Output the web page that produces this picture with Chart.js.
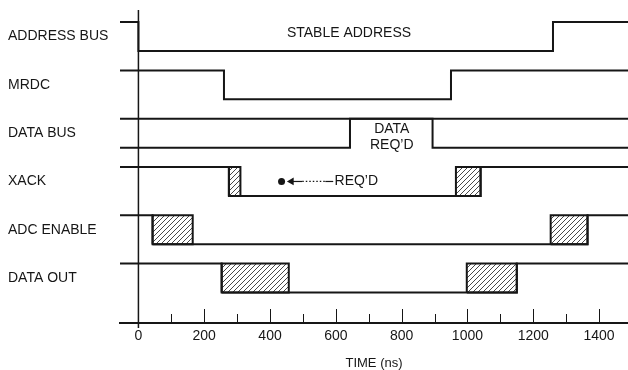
<!DOCTYPE html>
<html>
<head>
<meta charset="utf-8">
<title>Read cycle timing</title>
<style>
  html, body { margin: 0; padding: 0; background: #fff; }
</style>
<script src="https://cdn.jsdelivr.net/npm/chart.js"></script>
</head>
<body>
<canvas id="timing" width="628" height="370"></canvas>
<script>
// signal rows, top to bottom
const signals = ['ADDRESS BUS', 'MRDC', 'DATA BUS', 'XACK', 'ADC ENABLE', 'DATA OUT'];

// switching times (ns) and the level reached at each one (1 = high, 0 = low)
const addressTimes = [-60, 0, 1260, 1500];
const addressLevels = [1, 0, 1, 1];
const mrdcTimes = [-60, 260, 950, 1500];
const mrdcLevels = [1, 0, 1, 1];
const dataBusTimes = [-60, 643, 894, 1500];
const dataBusLevels = [0, 1, 0, 0];
const xackTimes = [-60, 275, 1040, 1500];
const xackLevels = [1, 0, 1, 1];
const adcTimes = [-60, 43, 1365, 1500];
const adcLevels = [1, 0, 1, 1];
const dataOutTimes = [-60, 253, 1150, 1500];
const dataOutLevels = [1, 0, 1, 1];

// hatched "don't care" windows [start, end] in ns
const xackWindows = [[275, 310], [965, 1040]];
const adcWindows = [[43, 165], [1253, 1365]];
const dataOutWindows = [[253, 457], [998, 1150]];

// REQ'D marker on XACK: dot, arrow and leader (ns)
const reqDot = 435;
const reqArrow = 465;
const reqLeader = [465, 498, 568, 592];

// time axis
const majorTicks = [0, 200, 400, 600, 800, 1000, 1200, 1400];
const minorTicks = [100, 300, 500, 700, 900, 1100, 1300];

const SWING = 0.6;
const rowBase = i => signals.length - 1 - i;
const level = (i, l) => rowBase(i) + l * SWING;
const ink = '#161616';
const FONT = "'Liberation Sans', Arial, Helvetica, sans-serif";

function steps(row, times, levels) {
  return times.map((t, k) => ({ x: t, y: level(row, levels[k]) }));
}

function hatch() {
  const c = document.createElement('canvas');
  c.width = 5; c.height = 5;
  const g = c.getContext('2d');
  g.strokeStyle = '#333';
  g.lineWidth = 0.9;
  g.beginPath();
  g.moveTo(0, 5); g.lineTo(5, 0);
  g.moveTo(-1, 1); g.lineTo(1, -1);
  g.moveTo(4, 6); g.lineTo(6, 4);
  g.stroke();
  return g.createPattern(c, 'repeat');
}
const hatchFill = hatch();

const lineDefaults = { borderColor: ink, borderWidth: 2, pointRadius: 0, fill: false, stepped: true };

const datasets = [
  { ...lineDefaults, data: steps(0, addressTimes, addressLevels) },
  { ...lineDefaults, data: steps(1, mrdcTimes, mrdcLevels) },
  { ...lineDefaults, data: steps(2, [-60, 1500], [1, 1]) },
  { ...lineDefaults, data: steps(2, dataBusTimes, dataBusLevels) },
  { ...lineDefaults, data: steps(3, xackTimes, xackLevels) },
  { ...lineDefaults, data: steps(4, adcTimes, adcLevels) },
  { ...lineDefaults, data: steps(5, dataOutTimes, dataOutLevels) }
];

// hatched boxes
[[3, xackWindows], [4, adcWindows], [5, dataOutWindows]].forEach(([row, wins]) => {
  wins.forEach(([s, e]) => {
    datasets.push({
      data: [
        { x: s, y: level(row, 0) }, { x: s, y: level(row, 1) },
        { x: e, y: level(row, 1) }, { x: e, y: level(row, 0) }, { x: s, y: level(row, 0) }
      ],
      borderColor: ink, borderWidth: 2, pointRadius: 0,
      fill: 'shape', backgroundColor: hatchFill
    });
  });
});

// REQ'D marker
const reqY = level(3, 0.5);
datasets.push({
  data: reqLeader.map(t => ({ x: t, y: reqY })),
  borderColor: ink, borderWidth: 1.2, pointRadius: 0, fill: false,
  segment: { borderDash: ctx => ctx.p0DataIndex === 1 ? [1.5, 2] : undefined }
});
datasets.push({
  data: [{ x: reqDot, y: reqY }],
  showLine: false, pointRadius: 3.5, pointStyle: 'circle',
  backgroundColor: ink, borderColor: ink, borderWidth: 0
});
datasets.push({
  data: [{ x: reqArrow, y: reqY }],
  showLine: false, pointRadius: 4.5, pointStyle: 'triangle', rotation: 270,
  backgroundColor: ink, borderColor: ink, borderWidth: 0
});

// labels written inside the diagram
const notes = [
  { text: 'STABLE ADDRESS', t: 640, y: level(0, 0.62), align: 'center' },
  { text: 'DATA', t: 770, y: level(2, 0.63), align: 'center' },
  { text: 'REQ\u2019D', t: 770, y: level(2, 0.08), align: 'center' },
  { text: 'REQ\u2019D', t: 596, y: reqY, align: 'left' }
];

const diagramPlugin = {
  id: 'diagram',
  afterDraw(chart) {
    const { ctx, chartArea, scales: { x } } = chart;
    const zero = x.getPixelForValue(0);
    ctx.save();
    ctx.strokeStyle = ink;
    // time axis through t = 0
    ctx.lineWidth = 1.5;
    ctx.beginPath();
    ctx.moveTo(zero, chartArea.top);
    ctx.lineTo(zero, chartArea.bottom + 5);
    ctx.stroke();
    // tick marks rising from the time axis
    ctx.lineWidth = 1;
    x.ticks.forEach(tk => {
      if (tk.value === 0) return;
      const px = Math.round(x.getPixelForValue(tk.value)) + 0.5;
      const len = majorTicks.includes(tk.value) ? 14 : 9;
      ctx.beginPath();
      ctx.moveTo(px, chartArea.bottom);
      ctx.lineTo(px, chartArea.bottom - len);
      ctx.stroke();
    });
    ctx.restore();
  },
  afterDatasetsDraw(chart) {
    const { ctx, scales: { x, y } } = chart;
    ctx.save();
    ctx.fillStyle = ink;
    ctx.font = '14px ' + FONT;
    ctx.textBaseline = 'middle';
    notes.forEach(n => {
      ctx.textAlign = n.align;
      ctx.fillText(n.text, x.getPixelForValue(n.t), y.getPixelForValue(n.y));
    });
    ctx.restore();
  }
};

new Chart(document.getElementById('timing'), {
  type: 'line',
  data: { datasets },
  options: {
    responsive: false,
    animation: false,
    events: [],
    layout: { autoPadding: false, padding: { left: 8, top: 10, right: 0, bottom: 0 } },
    plugins: { legend: { display: false }, tooltip: { enabled: false } },
    scales: {
      x: {
        type: 'linear',
        min: -56,
        max: 1488,
        grid: { display: false, drawTicks: false },
        border: { display: true, color: ink, width: 2 },
        afterBuildTicks: scale => {
          scale.ticks = [...majorTicks, ...minorTicks].sort((a, b) => a - b).map(v => ({ value: v }));
        },
        afterFit: scale => {
          scale.height = 47;
          scale.paddingLeft = 0;
          scale.paddingRight = 0;
        },
        ticks: {
          autoSkip: false,
          maxRotation: 0,
          padding: 5,
          color: ink,
          font: { family: FONT, size: 14 },
          callback: v => majorTicks.includes(v) ? String(v) : ''
        },
        title: {
          display: true,
          text: 'TIME (ns)',
          color: ink,
          font: { family: FONT, size: 13, lineHeight: 1 },
          padding: { top: 0, bottom: 0 }
        }
      },
      y: {
        type: 'linear',
        min: -0.63,
        max: 5.85,
        grid: { display: false, drawTicks: false },
        border: { display: false },
        afterBuildTicks: scale => {
          scale.ticks = signals.map((s, i) => ({ value: level(i, 0.5) }));
        },
        afterFit: scale => {
          scale.width = 112;
          scale.paddingTop = 0;
          scale.paddingBottom = 0;
        },
        ticks: {
          crossAlign: 'far',
          padding: 0,
          color: ink,
          font: { family: FONT, size: 14 },
          callback: (v, i) => signals[i]
        }
      }
    }
  },
  plugins: [diagramPlugin]
});
</script>
</body>
</html>
